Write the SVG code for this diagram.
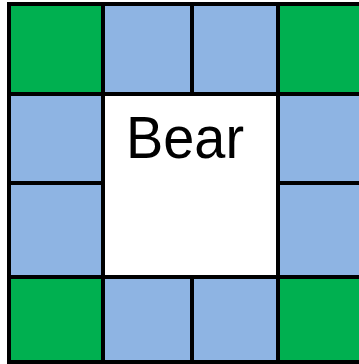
<svg xmlns="http://www.w3.org/2000/svg" width="359" height="364" viewBox="0 0 359 364">
<style>
.c{stroke:#000;stroke-width:4}
.g{fill:#00B050}
.b{fill:#8EB4E3}
.w{fill:#FFFFFF}
.t{font-family:"Liberation Sans",Arial,sans-serif;font-size:60px;fill:#000}
</style>
<rect width="359" height="364" fill="#FFFFFF"/>
<g id="cell-0-0"><rect class="c g" x="9" y="4" width="94" height="90"/></g>
<g id="cell-0-1"><rect class="c b" x="103" y="4" width="89" height="90"/></g>
<g id="cell-0-2"><rect class="c b" x="192" y="4" width="86" height="90"/></g>
<g id="cell-0-3"><rect class="c g" x="278" y="4" width="85" height="90"/></g>
<g id="cell-1-0"><rect class="c b" x="9" y="94" width="94" height="89"/></g>
<g id="cell-1-3"><rect class="c b" x="278" y="94" width="85" height="89"/></g>
<g id="cell-2-0"><rect class="c b" x="9" y="183" width="94" height="94"/></g>
<g id="cell-2-3"><rect class="c b" x="278" y="183" width="85" height="94"/></g>
<g id="cell-3-0"><rect class="c g" x="9" y="277" width="94" height="85"/></g>
<g id="cell-3-1"><rect class="c b" x="103" y="277" width="89" height="85"/></g>
<g id="cell-3-2"><rect class="c b" x="192" y="277" width="86" height="85"/></g>
<g id="cell-3-3"><rect class="c g" x="278" y="277" width="85" height="85"/></g>
<g id="center"><rect class="c w" x="103" y="94" width="175" height="183"/><text class="t" x="185" y="158" text-anchor="middle" textLength="118" lengthAdjust="spacingAndGlyphs">Bear</text></g>
</svg>
